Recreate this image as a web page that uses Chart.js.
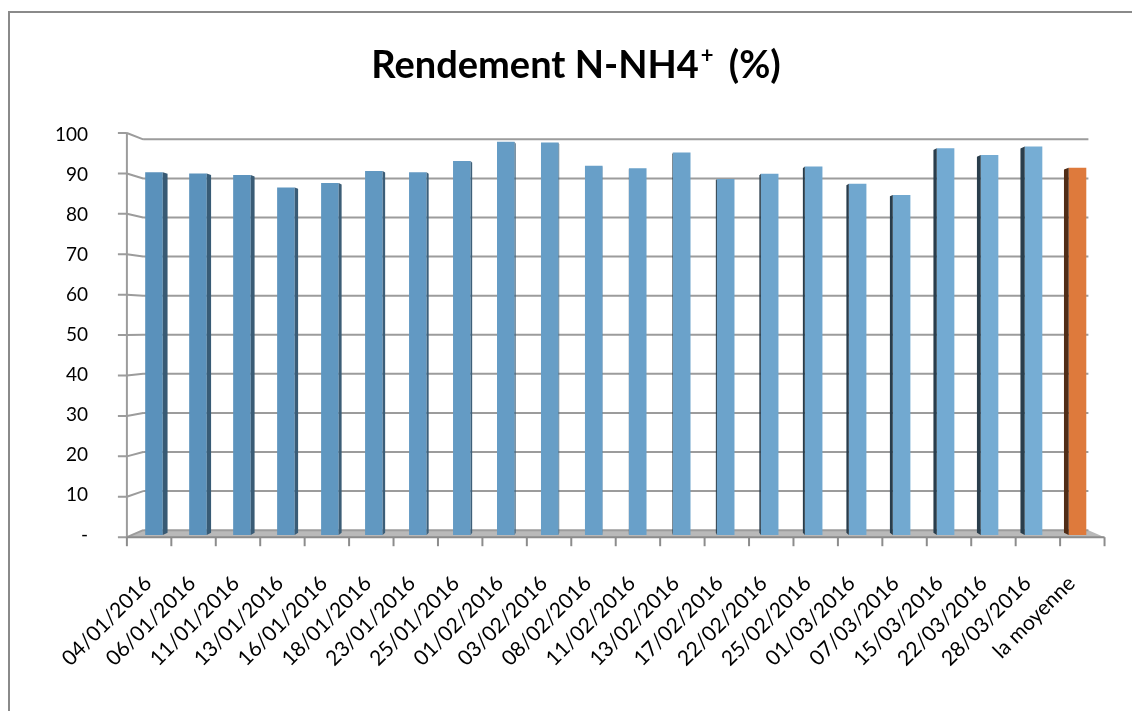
<!DOCTYPE html>
<html>
<head>
<meta charset="utf-8">
<script src="https://cdn.jsdelivr.net/npm/chart.js@4.4.1/dist/chart.umd.min.js"></script>
<style>
html,body{margin:0;padding:0;background:#fff;}
#wrap{width:1132px;height:711px;position:relative;}
canvas{display:block;}
</style>
</head>
<body>
<div id="wrap"><canvas id="c" width="1132" height="711" style="width:1132px;height:711px"></canvas></div>
<script>
// ---- data ----
const categories = ["04/01/2016","06/01/2016","11/01/2016","13/01/2016","16/01/2016","18/01/2016","23/01/2016","25/01/2016","01/02/2016","03/02/2016","08/02/2016","11/02/2016","13/02/2016","17/02/2016","22/02/2016","25/02/2016","01/03/2016","07/03/2016","15/03/2016","22/03/2016","28/03/2016","la moyenne"];
const rendement = [90.7, 90.4, 90.0, 86.9, 88.0, 91.0, 90.7, 93.5, 98.3, 98.1, 92.3, 91.7, 95.6, 89.0, 90.3, 92.1, 87.8, 85.0, 96.7, 95.0, 97.1, 91.8];
const yTickLabels = ["-", "10", "20", "30", "40", "50", "60", "70", "80", "90", "100"];
const titleMain = "Rendement N-NH4";
const titleSup = "+";
const titleTail = " (%)";

// ---- styling helpers ----
const VX = 618, VY = 325;      // vanishing point of the pseudo-3D view
const KF = 1.0105, KB = 0.977; // front / back depth factors
const DEPTH = 0.0105;          // bar depth factor
function proj(x, y, k) { return [VX + (x - VX) * k, VY + (y - VY) * k]; }

const blueA = [90, 145, 187], blueB = [118, 173, 212], orange = [222, 122, 60];
function frontRGB(i) {
  const n = categories.length;
  if (i === n - 1) return orange;
  const t = i / (n - 2);
  return blueA.map((a, j) => Math.round(a + (blueB[j] - a) * t));
}
function rgb(c, f) { f = f || 1; return 'rgb(' + c.map(v => Math.round(v * f)).join(',') + ')'; }
const barColors = categories.map((_, i) => rgb(frontRGB(i)));

const decorPlugin = {
  id: 'decor',
  beforeDraw(chart) {
    const ctx = chart.ctx;
    ctx.save();
    ctx.fillStyle = '#fff';
    ctx.fillRect(0, 0, chart.width, chart.height);
    ctx.strokeStyle = '#8a8a8a';
    ctx.lineWidth = 2;
    ctx.strokeRect(9, 12, 1400, 900);
    ctx.restore();
  },
  beforeDatasetsDraw(chart) {
    const ctx = chart.ctx, a = chart.chartArea, ys = chart.scales.y, xs = chart.scales.x;
    ctx.save();
    // floor
    const bl = proj(a.left, a.bottom, KB), br = proj(a.right, a.bottom, KB);
    const fl = proj(a.left, a.bottom, KF), fr = proj(a.right, a.bottom, KF);
    ctx.beginPath();
    ctx.moveTo(bl[0], bl[1]); ctx.lineTo(br[0], br[1]); ctx.lineTo(fr[0], fr[1]); ctx.lineTo(fl[0], fl[1]); ctx.closePath();
    ctx.fillStyle = '#b9b9b9';
    ctx.fill();
    // gridlines + left wall
    ctx.strokeStyle = '#9c9c9c';
    ctx.lineWidth = 2;
    for (let v = 0; v <= 100; v += 10) {
      const ym = ys.getPixelForValue(v);
      const b0 = proj(a.left, ym, KB), b1 = proj(a.right, ym, KB), f0 = proj(a.left, ym, KF);
      ctx.beginPath();
      ctx.moveTo(b0[0], b0[1]); ctx.lineTo(b1[0], b1[1]);
      ctx.moveTo(f0[0], f0[1]); ctx.lineTo(b0[0], b0[1]);
      ctx.moveTo(f0[0] - 9, f0[1]); ctx.lineTo(f0[0], f0[1]);
      ctx.stroke();
    }
    // front vertical axis
    const ft = proj(a.left, ys.getPixelForValue(100), KF), fb = proj(a.left, ys.getPixelForValue(0), KF);
    ctx.beginPath(); ctx.moveTo(ft[0], ft[1]); ctx.lineTo(fb[0], fb[1]); ctx.stroke();
    // front horizontal axis + ticks
    ctx.strokeStyle = '#8c8c8c';
    ctx.beginPath(); ctx.moveTo(fl[0], fl[1]); ctx.lineTo(fr[0], fr[1]); ctx.stroke();
    const w = xs.getPixelForValue(1) - xs.getPixelForValue(0);
    for (let i = 0; i <= categories.length; i++) {
      const bx = xs.getPixelForValue(0) - w / 2 + i * w;
      const p = proj(bx, a.bottom, KF);
      ctx.beginPath(); ctx.moveTo(p[0], p[1]); ctx.lineTo(p[0], p[1] + 9); ctx.stroke();
    }
    ctx.restore();
  },
  afterDatasetsDraw(chart) {
    const ctx = chart.ctx;
    const meta = chart.getDatasetMeta(0);
    ctx.save();
    meta.data.forEach((bar, i) => {
      const p = bar.getProps(['x', 'y', 'base', 'width'], true);
      const left = p.x < VX;
      const edge = left ? p.x + p.width / 2 : p.x - p.width / 2;
      const t = proj(edge, p.y, 1 - DEPTH), b = proj(edge, p.base, 1 - DEPTH);
      ctx.beginPath();
      ctx.moveTo(edge, p.y); ctx.lineTo(t[0], t[1]); ctx.lineTo(b[0], b[1]); ctx.lineTo(edge, p.base); ctx.closePath();
      ctx.fillStyle = rgb(frontRGB(i), left ? 0.62 : 0.36);
      ctx.fill();
    });
    ctx.restore();
  },
  afterDraw(chart) {
    const ctx = chart.ctx;
    ctx.save();
    ctx.fillStyle = '#000';
    ctx.textBaseline = 'alphabetic';
    const big = 'bold 38px Lato', small = 'bold 22px Lato';
    ctx.font = big; const w1 = ctx.measureText(titleMain).width; const w3 = ctx.measureText(titleTail).width;
    ctx.font = small; const w2 = ctx.measureText(titleSup).width;
    const gap = 6;
    let x = 575 - (w1 + w2 + w3 + gap) / 2;
    const y = 78;
    ctx.font = big; ctx.fillText(titleMain, x, y); x += w1 + 2;
    ctx.font = small; ctx.fillText(titleSup, x, y - 15); x += w2 + gap;
    ctx.font = big; ctx.fillText(titleTail, x, y);
    ctx.restore();
  }
};

Chart.defaults.font.family = 'Lato';
new Chart(document.getElementById('c'), {
  type: 'bar',
  data: {
    labels: categories,
    datasets: [{
      data: rendement,
      backgroundColor: barColors,
      borderWidth: 0,
      barPercentage: 0.4,
      categoryPercentage: 1.0
    }]
  },
  options: {
    responsive: false,
    animation: false,
    devicePixelRatio: 1,
    layout: { padding: { top: 135, right: 30, left: 0, bottom: 0 } },
    plugins: { legend: { display: false }, title: { display: false }, tooltip: { enabled: false } },
    scales: {
      x: {
        type: 'category',
        offset: true,
        grid: { display: false, drawTicks: false },
        border: { display: false },
        ticks: { autoSkip: false, minRotation: 45, maxRotation: 45, padding: 36, labelOffset: -6, color: '#000', font: { family: 'Lato', size: 21 } },
        afterFit(s) { s.height = 176; }
      },
      y: {
        min: 0, max: 100,
        grid: { display: false, drawTicks: false },
        border: { display: false },
        ticks: { stepSize: 10, padding: 44, color: '#000', font: { family: 'Lato', size: 19 }, callback: (v, i) => yTickLabels[i] },
        afterFit(s) { s.width = 132; }
      }
    }
  },
  plugins: [decorPlugin]
});
</script>
</body>
</html>
